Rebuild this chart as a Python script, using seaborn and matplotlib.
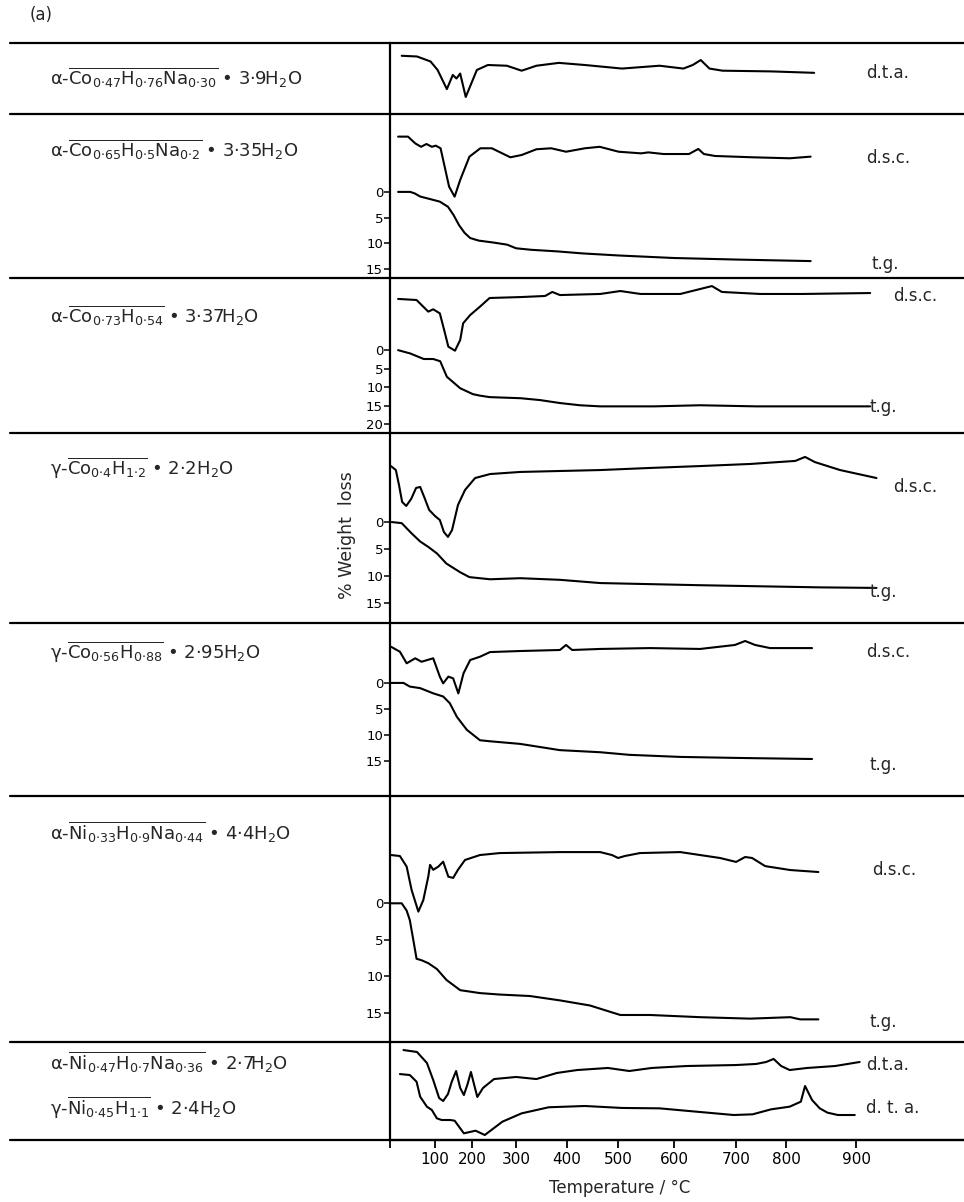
import numpy as np
import matplotlib
matplotlib.use("Agg")
import matplotlib.pyplot as plt
import seaborn as sns
from matplotlib.lines import Line2D

# ─────────────────────────────────────────────
# Thermal analysis (d.t.a. / d.s.c. / t.g.) of Co and Ni hydroxide phases
# dsc/dta signal in arbitrary units (0-1 of row height), t.g. in % weight loss
# ─────────────────────────────────────────────

# temperature axis of the original is not linear: tick temperature -> relative position
AXIS_T = [-1000, 0, 100, 200, 300, 400, 500, 600, 700, 800, 900, 2000]
AXIS_P = [-60, 390, 435, 472, 516, 567, 618, 674, 736, 786, 856, 1626]

# row 1  α-Co0.47H0.76Na0.30·3.9H2O  (d.t.a.)
r1_dta_t = [26, 60, 90, 107, 132, 148, 158, 168, 183, 211, 236, 279, 311, 340, 384, 435,
            507, 574, 615, 630, 643, 657, 678, 770, 840]
r1_dta_s = [0.82, 0.81, 0.74, 0.62, 0.35, 0.55, 0.50, 0.57, 0.24, 0.62, 0.69, 0.68, 0.61,
            0.68, 0.72, 0.69, 0.64, 0.68, 0.64, 0.69, 0.76, 0.64, 0.61, 0.60, 0.58]

# row 2  α-Co0.65H0.5Na0.2·3.35H2O
r2_dsc_t = [18, 40, 56, 69, 81, 93, 102, 115, 128, 138, 153, 168, 193, 219, 245, 287, 311,
            340, 369, 398, 435, 464, 501, 541, 554, 581, 624, 639, 648, 666, 733, 805, 835]
r2_dsc_s = [0.862, 0.862, 0.821, 0.80, 0.817, 0.80, 0.807, 0.791, 0.659, 0.557, 0.496, 0.598,
            0.74, 0.791, 0.791, 0.736, 0.75, 0.785, 0.791, 0.77, 0.791, 0.80, 0.77, 0.76,
            0.766, 0.756, 0.756, 0.787, 0.756, 0.744, 0.736, 0.73, 0.74]
r2_tg_t = [18, 45, 55, 67, 89, 113, 135, 150, 165, 180, 195, 215, 250, 280, 300, 330, 380,
           430, 500, 600, 700, 835]
r2_tg_w = [0, 0, 0.3, 0.9, 1.4, 1.9, 2.9, 4.5, 6.5, 8.0, 9.0, 9.5, 9.9, 10.3, 11.0, 11.3,
           11.6, 12.0, 12.4, 12.9, 13.2, 13.5]

# row 3  α-Co0.73H0.54·3.37H2O
r3_dsc_t = [18, 59, 85, 96, 113, 127, 136, 154, 168, 176, 195, 218, 240, 309, 357, 371, 386,
            465, 504, 540, 610, 642, 661, 677, 748, 824, 920]
r3_dsc_s = [0.865, 0.858, 0.783, 0.798, 0.772, 0.643, 0.557, 0.531, 0.60, 0.708, 0.761,
            0.815, 0.871, 0.877, 0.884, 0.91, 0.89, 0.897, 0.916, 0.897, 0.897, 0.929,
            0.948, 0.91, 0.897, 0.897, 0.903]
r3_tg_t = [18, 45, 75, 96, 114, 132, 168, 202, 218, 240, 309, 347, 386, 425, 465, 564, 642,
           740, 824, 920]
r3_tg_w = [0, 0.9, 2.4, 2.4, 3.0, 7.2, 10.3, 11.9, 12.3, 12.7, 13.0, 13.5, 14.3, 14.9, 15.2,
           15.2, 14.9, 15.2, 15.2, 15.2]

# row 4  γ-Co0.4H1.2·2.2H2O
r4_dsc_t = [2, 13, 20, 27, 36, 47, 58, 67, 76, 87, 100, 113, 124, 135, 146, 162, 181, 207,
            241, 308, 386, 465, 557, 642, 728, 813, 827, 841, 877, 929]
r4_dsc_s = [0.826, 0.805, 0.726, 0.637, 0.616, 0.653, 0.711, 0.716, 0.663, 0.595, 0.563,
            0.542, 0.479, 0.453, 0.489, 0.621, 0.70, 0.763, 0.784, 0.795, 0.80, 0.805, 0.816,
            0.826, 0.837, 0.853, 0.874, 0.847, 0.805, 0.763]
r4_tg_t = [4, 26, 48, 67, 85, 105, 131, 168, 193, 241, 308, 386, 465, 557, 642, 748, 849, 929]
r4_tg_w = [0, 0.2, 2.1, 3.6, 4.6, 5.8, 7.7, 9.3, 10.2, 10.6, 10.4, 10.7, 11.3, 11.5, 11.7,
           11.9, 12.1, 12.2]

# row 5  γ-Co0.56H0.88·2.95H2O
r5_dsc_t = [2, 22, 37, 56, 70, 96, 113, 122, 136, 149, 163, 177, 195, 218, 241, 308, 386,
            398, 410, 465, 557, 642, 698, 718, 738, 768, 837]
r5_dsc_s = [0.863, 0.834, 0.767, 0.796, 0.776, 0.796, 0.69, 0.651, 0.69, 0.68, 0.593, 0.709,
            0.786, 0.805, 0.832, 0.838, 0.844, 0.873, 0.844, 0.85, 0.855, 0.85, 0.873, 0.896,
            0.873, 0.855, 0.855]
r5_tg_t = [2, 30, 44, 67, 96, 122, 140, 159, 186, 218, 241, 308, 386, 465, 520, 610, 706, 837]
r5_tg_w = [0, 0, 0.7, 1.0, 2.0, 2.6, 3.9, 6.5, 9.0, 11.0, 11.2, 11.7, 12.9, 13.3, 13.8,
           14.2, 14.4, 14.6]

# row 6  α-Ni0.33H0.9Na0.44·4.4H2O
r6_dsc_t = [2, 22, 37, 48, 63, 74, 85, 89, 96, 109, 122, 136, 149, 162, 181, 218, 263, 386,
            465, 488, 500, 512, 539, 610, 642, 674, 700, 718, 732, 758, 806, 846]
r6_dsc_s = [0.760, 0.756, 0.713, 0.618, 0.53, 0.577, 0.672, 0.72, 0.70, 0.713, 0.733, 0.672,
            0.667, 0.70, 0.74, 0.76, 0.768, 0.772, 0.772, 0.76, 0.748, 0.756, 0.768, 0.772,
            0.76, 0.748, 0.732, 0.752, 0.748, 0.715, 0.699, 0.691]
r6_tg_t = [2, 26, 37, 44, 52, 59, 70, 85, 105, 131, 168, 218, 263, 327, 386, 445, 486, 504,
           557, 642, 728, 806, 820, 846]
r6_tg_w = [0, 0, 1.0, 2.3, 5.1, 7.6, 7.8, 8.2, 9.0, 10.5, 11.9, 12.3, 12.5, 12.7, 13.3, 14.0,
           14.9, 15.3, 15.3, 15.6, 15.8, 15.6, 15.9, 15.9]

# row 7  α-Ni0.47H0.7Na0.36·2.7H2O (upper) and γ-Ni0.45H1.1·2.4H2O (lower), both d.t.a.
r7a_dta_t = [30, 60, 82, 96, 111, 122, 135, 145, 157, 168, 178, 188, 197, 205, 212, 225, 250,
             300, 340, 380, 420, 480, 520, 560, 620, 700, 740, 760, 775, 790, 805, 830, 870, 905]
r7a_dta_s = [0.918, 0.898, 0.786, 0.612, 0.429, 0.398, 0.469, 0.592, 0.704, 0.531, 0.459,
             0.571, 0.694, 0.561, 0.439, 0.531, 0.622, 0.643, 0.622, 0.684, 0.714, 0.735,
             0.704, 0.735, 0.755, 0.765, 0.776, 0.796, 0.827, 0.755, 0.714, 0.735, 0.755, 0.796]
r7b_dta_t = [22, 44, 59, 67, 82, 93, 105, 118, 141, 153, 178, 208, 229, 269, 311, 364, 435,
             507, 574, 636, 696, 733, 770, 805, 821, 827, 837, 848, 859, 874, 898]
r7b_dta_s = [0.673, 0.663, 0.595, 0.442, 0.34, 0.306, 0.221, 0.204, 0.204, 0.197, 0.068,
             0.095, 0.051, 0.187, 0.272, 0.334, 0.347, 0.327, 0.323, 0.289, 0.255, 0.262,
             0.313, 0.34, 0.391, 0.551, 0.408, 0.323, 0.279, 0.255, 0.255]

x_ticks = [100, 200, 300, 400, 500, 600, 700, 800, 900]

# ─────────────────────────────────────────────
W, H = 964, 1202
sns.set_style("white")
plt.rcParams["font.family"] = ["DejaVu Sans"]
plt.rcParams["mathtext.fontset"] = "dejavusans"

fig = plt.figure(figsize=(W / 100, H / 100), dpi=100)

def fwd(t):
    return np.interp(t, AXIS_T, AXIS_P)

def inv(p):
    return np.interp(p, AXIS_P, AXIS_T)

# (top px, bottom px, tg ylim bottom, tg ylim top, tg ticks)
rows = [
    (43, 114, None, None, []),
    (114, 278, 16.8, -15.2, [0, 5, 10, 15]),
    (278, 433, 22.4, -19.5, [0, 5, 10, 15, 20]),
    (433, 623, 18.7, -16.5, [0, 5, 10, 15]),
    (623, 796, 21.7, -11.5, [0, 5, 10, 15]),
    (796, 1042, 19.0, -14.7, [0, 5, 10, 15]),
    (1042, 1140, None, None, []),
]
X0 = 390
LW = 1.5

def curve(ax, t, v):
    sns.lineplot(x=t, y=v, ax=ax, color="black", linewidth=LW, sort=False,
                 estimator=None)
    ax.set_xlabel("")
    ax.set_ylabel("")

axes, twins = [], []
for top, bot, ylo, yhi, yt in rows:
    ax = fig.add_axes([X0 / W, 1 - bot / H, 1 - X0 / W, (bot - top) / H])
    ax.set_xscale("function", functions=(fwd, inv))
    ax.set_xlim(0, 1054)
    ax.set_facecolor("none")
    axes.append(ax)
    if ylo is not None:
        a2 = ax.twinx()
        a2.set_ylim(0, 1)
        a2.axis("off")
        twins.append(a2)

curve(axes[0], r1_dta_t, r1_dta_s)
dsc_data = [(r2_dsc_t, r2_dsc_s, r2_tg_t, r2_tg_w),
            (r3_dsc_t, r3_dsc_s, r3_tg_t, r3_tg_w),
            (r4_dsc_t, r4_dsc_s, r4_tg_t, r4_tg_w),
            (r5_dsc_t, r5_dsc_s, r5_tg_t, r5_tg_w),
            (r6_dsc_t, r6_dsc_s, r6_tg_t, r6_tg_w)]
for ax, a2, (dt, ds, tt, tw) in zip(axes[1:6], twins, dsc_data):
    curve(ax, tt, tw)
    curve(a2, dt, ds)
    a2.set_ylim(0, 1)
curve(axes[6], r7a_dta_t, r7a_dta_s)
curve(axes[6], r7b_dta_t, r7b_dta_s)

# axis styling after drawing
for ax, (top, bot, ylo, yhi, yt) in zip(axes, rows):
    ax.set_xlim(0, 1054)
    for s in ["top", "right", "bottom"]:
        ax.spines[s].set_visible(False)
    ax.spines["left"].set_linewidth(1.6)
    ax.spines["left"].set_color("black")
    ax.set_xticks([])
    ax.tick_params(axis="x", bottom=False, labelbottom=False)
    if ylo is not None:
        ax.set_ylim(ylo, yhi)
        ax.set_yticks(yt)
        ax.tick_params(axis="y", direction="out", length=4, width=1.1, labelsize=9.5,
                       pad=1, left=True, colors="black")
    else:
        ax.set_ylim(0, 1)
        ax.set_yticks([])

# bottom temperature axis
axb = axes[6]
axb.spines["bottom"].set_visible(True)
axb.spines["bottom"].set_linewidth(1.6)
axb.set_xticks([0] + x_ticks)
axb.set_xticklabels([""] + [str(v) for v in x_ticks])
axb.tick_params(axis="x", direction="out", length=6, width=1.3, labelsize=11, pad=3,
                bottom=True, labelbottom=True, colors="black")
axb.set_xlabel("Temperature / °C", fontsize=12)
axb.xaxis.set_label_coords((620 - X0) / (W - X0), -0.40)

# table lines
for y in [43, 114, 278, 433, 623, 796, 1042, 1140]:
    fig.add_artist(Line2D([10 / W, 1], [1 - y / H] * 2, transform=fig.transFigure,
                          color="black", linewidth=1.6))

def ft(x, y, s, **kw):
    fig.text(x / W, 1 - y / H, s, **kw)

ft(30, 15, "(a)", fontsize=12, va="center")
ft(347, 535, "% Weight  loss", fontsize=12.5, rotation=90, ha="center", va="center")

FS = 13
formulas = [
    (78, "α-" + r"$\overline{\mathrm{Co}_{0{\cdot}47}\mathrm{H}_{0{\cdot}76}\mathrm{Na}_{0{\cdot}30}}$" + " • 3·9H$_2$O"),
    (150, "α-" + r"$\overline{\mathrm{Co}_{0{\cdot}65}\mathrm{H}_{0{\cdot}5}\mathrm{Na}_{0{\cdot}2}}$" + " • 3·35H$_2$O"),
    (316, "α-" + r"$\overline{\mathrm{Co}_{0{\cdot}73}\mathrm{H}_{0{\cdot}54}}$" + " • 3·37H$_2$O"),
    (468, "γ-" + r"$\overline{\mathrm{Co}_{0{\cdot}4}\mathrm{H}_{1{\cdot}2}}$" + " • 2·2H$_2$O"),
    (652, "γ-" + r"$\overline{\mathrm{Co}_{0{\cdot}56}\mathrm{H}_{0{\cdot}88}}$" + " • 2·95H$_2$O"),
    (832, "α-" + r"$\overline{\mathrm{Ni}_{0{\cdot}33}\mathrm{H}_{0{\cdot}9}\mathrm{Na}_{0{\cdot}44}}$" + " • 4·4H$_2$O"),
    (1062, "α-" + r"$\overline{\mathrm{Ni}_{0{\cdot}47}\mathrm{H}_{0{\cdot}7}\mathrm{Na}_{0{\cdot}36}}$" + " • 2·7H$_2$O"),
    (1108, "γ-" + r"$\overline{\mathrm{Ni}_{0{\cdot}45}\mathrm{H}_{1{\cdot}1}}$" + " • 2·4H$_2$O"),
]
for y, s in formulas:
    ft(50, y, s, fontsize=FS, va="center")

# curve labels on the right
labels = [
    (866, 73, "d.t.a."), (866, 158, "d.s.c."), (872, 264, "t.g."),
    (893, 296, "d.s.c."), (870, 407, "t.g."),
    (893, 487, "d.s.c."), (870, 592, "t.g."),
    (866, 652, "d.s.c."), (870, 765, "t.g."),
    (872, 870, "d.s.c."), (870, 1022, "t.g."),
    (866, 1065, "d.t.a."), (866, 1108, "d. t. a."),
]
for x, y, s in labels:
    ft(x, y, s, fontsize=12, va="center")

fig.savefig("out.png", dpi=100)
plt.close(fig)
